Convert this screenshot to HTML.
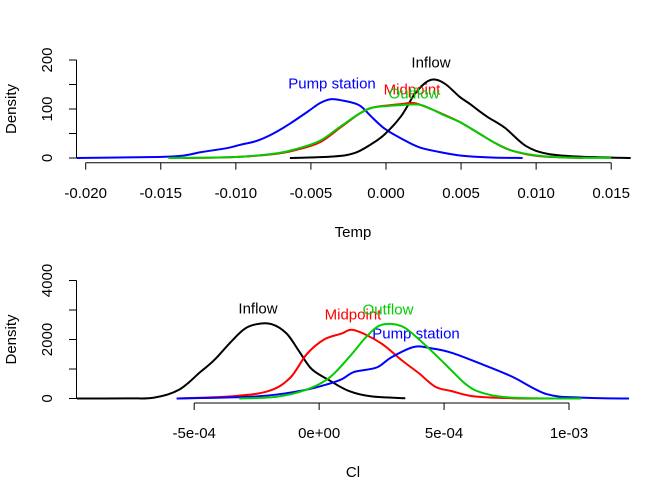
<!DOCTYPE html>
<html><head><meta charset="utf-8"><style>body{margin:0;background:#fff}svg{display:block}text{font-family:"Liberation Sans",Arial,sans-serif;font-size:15px}</style></head>
<body>
<svg id="c" width="672" height="480"></svg>
<script>
const topXTicks=[-0.020,-0.015,-0.010,-0.005,0.000,0.005,0.010,0.015];
const topXLabels=["-0.020","-0.015","-0.010","-0.005","0.000","0.005","0.010","0.015"];
const topYTicks=[0,50,100,150,200];
const topYLabels=["0","","100","","200"];
const tPumpX=[-0.0206,-0.0152,-0.0135,-0.0123,-0.0106,-0.0097,-0.0086,-0.0075,-0.0064,-0.0052,-0.0044,-0.0037,-0.003,-0.0018,-0.001,-0.0001,0.001,0.0022,0.0036,0.005,0.007,0.0091];
const tPumpY=[0,2,5,12,20,27,35,50,70,95,112,120,118,108,85,60,40,22,12,5,1,0];
const tOutX=[-0.0145,-0.01,-0.0072,-0.0058,-0.0044,-0.003,-0.0018,-0.001,0,0.001,0.0022,0.003,0.0039,0.005,0.0062,0.0073,0.0084,0.0101,0.0121,0.015];
const tOutY=[0,2,10,20,35,65,90,102,106,108,109,100,87,72,50,30,15,5,1,0];
const tMidX=[-0.0135,-0.01,-0.0072,-0.0058,-0.0044,-0.003,-0.0018,-0.001,0,0.001,0.0019,0.003,0.0039,0.005,0.0062,0.0073,0.0084,0.0101,0.0131];
const tMidY=[0,2,9,18,32,63,90,102,107,110,112,100,88,72,50,30,15,4,0];
const tInX=[-0.0064,-0.0035,-0.0021,-0.001,-0.0001,0.001,0.0019,0.0027,0.0033,0.004,0.0049,0.0056,0.0067,0.0079,0.0093,0.0107,0.0127,0.0163];
const tInY=[0,3,10,28,48,85,130,155,160,150,125,110,85,62,25,9,3,0];
const botXTicks=[-5e-4,0,5e-4,1e-3];
const botXLabels=["-5e-04","0e+00","5e-04","1e-03"];
const botYTicks=[0,1000,2000,3000,4000];
const botYLabels=["0","","2000","","4000"];
const bInX=[-9.7e-4,-7.66e-4,-6.6e-4,-5.6e-4,-4.75e-4,-4.2e-4,-3.55e-4,-3e-4,-2.5e-4,-1.9e-4,-1.3e-4,-0.8e-4,-0.3e-4,0.4e-4,1.2e-4,2.1e-4,3.45e-4];
const bInY=[0,5,30,300,900,1300,1900,2350,2520,2520,2200,1600,1000,620,250,70,10];
const bMidX=[-5.7e-4,-3.4e-4,-2e-4,-1.16e-4,-0.5e-4,0.2e-4,0.9e-4,1.3e-4,1.9e-4,2.6e-4,3.3e-4,4e-4,4.65e-4,5.3e-4,6.2e-4,7.7e-4,9.4e-4];
const bMidY=[0,80,260,700,1500,2000,2200,2330,2150,1800,1300,850,400,250,70,10,0];
const bOutX=[-3.2e-4,-1.7e-4,-0.5e-4,0.4e-4,1.2e-4,1.9e-4,2.5e-4,3.3e-4,4e-4,5e-4,5.85e-4,6.5e-4,7.7e-4,1.05e-3];
const bOutY=[0,60,300,700,1400,2100,2500,2450,2000,1200,500,200,30,0];
const bPumpX=[-5.7e-4,-2.5e-4,-0.8e-4,0.2e-4,0.9e-4,1.4e-4,2.3e-4,2.9e-4,3.8e-4,4.5e-4,5.3e-4,6.4e-4,7.7e-4,9.1e-4,1.05e-3,1.24e-3];
const bPumpY=[0,70,250,450,650,900,1050,1400,1750,1700,1550,1200,750,150,30,0];

const svg=document.getElementById('c');
const NS='http://www.w3.org/2000/svg';
function mk(tag,attrs,parent){const e=document.createElementNS(NS,tag);for(const k in attrs)e.setAttribute(k,attrs[k]);(parent||svg).appendChild(e);return e;}
function lin(d0,d1,p0,p1){return v=>p0+(v-d0)/(d1-d0)*(p1-p0);}
function smooth(P){
  let d='M'+P[0][0].toFixed(1)+' '+P[0][1].toFixed(1);
  for(let i=0;i<P.length-1;i++){
    const p0=P[Math.max(0,i-1)],p1=P[i],p2=P[i+1],p3=P[Math.min(P.length-1,i+2)];
    const c1x=p1[0]+(p2[0]-p0[0])/6,c1y=p1[1]+(p2[1]-p0[1])/6;
    const c2x=p2[0]-(p3[0]-p1[0])/6,c2y=p2[1]-(p3[1]-p1[1])/6;
    d+=`C${c1x.toFixed(1)} ${c1y.toFixed(1)} ${c2x.toFixed(1)} ${c2y.toFixed(1)} ${p2[0].toFixed(1)} ${p2[1].toFixed(1)}`;
  }
  return d;
}

function panel(name,sx,sy,xt,xl,yt,yl,axisY,labY,titleY,title,series){
  const g=mk('g',{});
  
  
  const ya=mk('path',{d:`M76.5 ${sy(yt[0])}V${sy(yt[yt.length-1])}`,stroke:'#000',fill:'none'},g);
  
  
  yt.forEach((v,i)=>{
    mk('line',{x1:69,x2:76.5,y1:sy(v),y2:sy(v),stroke:'#000'},g);
    if(yl[i]){const t=mk('text',{x:52,y:sy(v),'text-anchor':'middle',transform:`rotate(-90 52 ${sy(v)})`},g);t.textContent=yl[i];
      
      }
  });
  const cy=(sy(yt[0])+sy(yt[yt.length-1]))/2;
  const yt2=mk('text',{x:16,y:cy,'text-anchor':'middle',transform:`rotate(-90 16 ${cy})`},g);
  yt2.textContent='Density';
  
  
  const xa=mk('path',{d:`M${sx(xt[0])} ${axisY}H${sx(xt[xt.length-1])}`,stroke:'#000',fill:'none'},g);
  
  
  xt.forEach((v,i)=>{
    mk('line',{x1:sx(v),x2:sx(v),y1:axisY,y2:axisY+7,stroke:'#000'},g);
    const t=mk('text',{x:sx(v),y:labY,'text-anchor':'middle'},g);t.textContent=xl[i];
    
    
  });
  const xt2=mk('text',{x:353,y:titleY,'text-anchor':'middle'},g);
  xt2.textContent=title;
  
  
  series.forEach(s=>{
    const P=s.x.map((v,i)=>[sx(v),sy(s.y[i])]);
    const p=mk('path',{d:smooth(P),stroke:s.c,'stroke-width':2,fill:'none','stroke-linejoin':'round'},g);
    
    
    const t=mk('text',{x:s.lx,y:s.ly,'text-anchor':'middle',fill:s.c,'dominant-baseline':'central'},g);t.textContent=s.n;
    
    
  });
}
panel('temp',lin(-0.02,0.015,85.7,611.2),lin(0,200,158,60),topXTicks,topXLabels,topYTicks,topYLabels,162.7,198,237,'Temp',[
 {n:'Pump station',x:tPumpX,y:tPumpY,c:'#0000ff',lx:332,ly:84},
 {n:'Inflow',x:tInX,y:tInY,c:'#000',lx:431,ly:63},
 {n:'Midpoint',x:tMidX,y:tMidY,c:'#ff0000',lx:412,ly:90},
 {n:'Outflow',x:tOutX,y:tOutY,c:'#00cd00',lx:414,ly:94}]);
panel('cl',lin(-5e-4,1e-3,194.2,569),lin(0,4000,398.5,280.5),botXTicks,botXLabels,botYTicks,botYLabels,403,438,477,'Cl',[
 {n:'Inflow',x:bInX,y:bInY,c:'#000',lx:258,ly:309},
 {n:'Midpoint',x:bMidX,y:bMidY,c:'#ff0000',lx:353,ly:315},
 {n:'Pump station',x:bPumpX,y:bPumpY,c:'#0000ff',lx:416,ly:334},
 {n:'Outflow',x:bOutX,y:bOutY,c:'#00cd00',lx:388,ly:310}]);
</script>
</body></html>
